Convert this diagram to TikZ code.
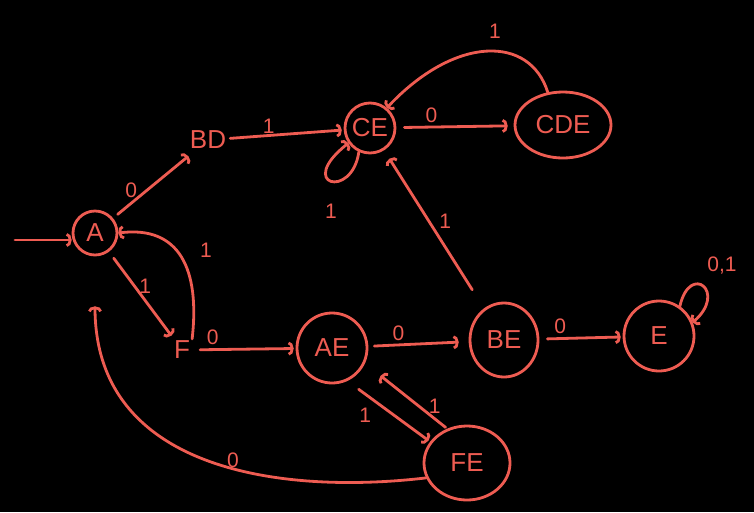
\documentclass[tikz,border=0pt]{standalone}
\usepackage{fontspec}
\setmainfont{Liberation Sans}
\usetikzlibrary{arrows.meta,shapes.geometric}
\definecolor{chalk}{RGB}{238,92,82}
\begin{document}
\begin{tikzpicture}[x=1pt,y=-1pt,
  every node/.style={text=chalk,font=\fontsize{26}{28}\selectfont},
  st/.style={draw=chalk,line width=2.8pt,circle,inner sep=0pt},
  stell/.style={draw=chalk,line width=2.8pt,ellipse,inner sep=0pt},
  plain/.style={inner sep=2pt},
  lbl/.style={font=\fontsize{21}{22}\selectfont,inner sep=1pt},
  arr/.style={draw=chalk,line width=2.8pt,line cap=round,-{Arc Barb[length=5pt,width=14pt]}},
]
\fill[black] (0,0) rectangle (754,512);
\useasboundingbox (0,0) rectangle (754,512);
% states
\node[st,minimum size=44pt] (A) at (95,233) {A};
\node[plain] (BD) at (208,140) {BD};
\node[st,minimum size=50pt] (CE) at (370,128) {CE};
\node[stell,minimum width=96pt,minimum height=66pt] (CDE) at (563,125) {CDE};
\node[plain] (F) at (182,350) {F};
\node[st,minimum size=70pt] (AE) at (332,348) {AE};
\node[stell,minimum width=68pt,minimum height=74pt] (BE) at (504,340) {BE};
\node[st,minimum size=70pt] (E) at (659,336) {E};
\node[stell,minimum width=86pt,minimum height=74pt] (FE) at (467,463) {FE};
\coordinate (start) at (15,240);
% edges
\draw[arr] (start) -- (start -| A.west);
\draw[arr,shorten <=6pt,shorten >=8pt] (A) -- (BD) node[lbl,pos=0.3,above left=-2pt] {0};
\draw[arr,shorten <=2pt,shorten >=2pt] (BD) -- (CE) node[lbl,pos=0.35,above] {1};
\draw[arr] (CE.245) .. controls (352,200) and (295,185) .. (CE.215);
\node[lbl] (l1) at (331,211) {1};
\draw[arr,shorten <=8pt,shorten >=6pt] (CE) -- (CDE) node[lbl,pos=0.3,above=2pt] {0};
\draw[arr] (CDE.115) .. controls (530,35) and (455,35) .. (CE.50) node[lbl,pos=0.45,above=10pt] {1};
\draw[arr,shorten <=8pt,shorten >=4pt] (A) -- (F) node[lbl,pos=0.4,right=2pt] {1};
\draw[arr] (F.north east) .. controls (200,270) and (180,225) .. (A.east) ;
\node[lbl] (l2) at (206,250) {1};
\draw[arr,shorten <=8pt,shorten >=2pt] (F) -- (AE) node[lbl,pos=0.2,above=2pt] {0};
\draw[arr,shorten <=6pt,shorten >=10pt] (AE) -- (BE) node[lbl,pos=0.3,above=2pt] {0};
\draw[arr,shorten <=22pt,shorten >=10pt] (BE) -- (CE) node[lbl,pos=0.55,right=8pt] {1};
\draw[arr,shorten <=8pt,shorten >=2pt] (BE) -- (E) node[lbl,pos=0.25,above=2pt] {0};
\draw[arr] (E.55) .. controls (690,262) and (728,292) .. (E.22);
\node[lbl] (l3) at (722,266) {0,1};
\draw[arr,shorten <=14pt,shorten >=2pt] (AE.295) -- (FE.150) node[lbl,pos=0.35,below left=3pt] {1};
\draw[arr,shorten <=2pt,shorten >=20pt] (FE.120) -- (AE.335) node[lbl,pos=0.35,right=8pt] {1};
\draw[arr,shorten >=50pt] (FE.200) .. controls (280,495) and (95,470) .. (A.south);
\node[lbl] (l4) at (233,460) {0};
\end{tikzpicture}
\end{document}
